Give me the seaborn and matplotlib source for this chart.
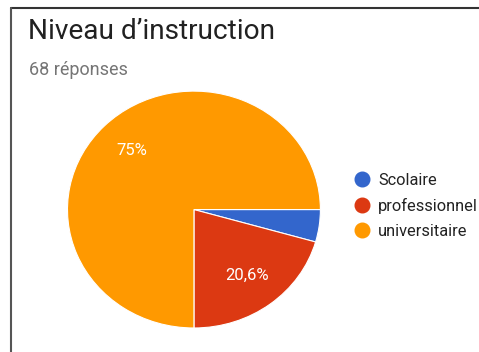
import matplotlib
matplotlib.use("Agg")
import matplotlib.pyplot as plt
from matplotlib.lines import Line2D
import seaborn as sns

# Donnees (68 reponses)
categories = ["Scolaire", "professionnel", "universitaire"]
counts = [3, 14, 51]
colors = sns.color_palette(["#3366cc", "#dc3912", "#ff9900"])

title = "Niveau d\u2019instruction"
subtitle = "68 réponses"

sns.set_theme(style="white")
plt.rcParams["font.family"] = ["Roboto", "DejaVu Sans"]

fig = plt.figure(figsize=(4.79, 3.52), dpi=100)
ax = fig.add_axes([0.1409, 0.0682, 0.528, 0.673])


def fmt_pct(p):
    # Google Forms cache les petites tranches, virgule decimale
    if p < 5:
        return ""
    s = f"{p:.1f}".rstrip("0").rstrip(".")
    return s.replace(".", ",") + "%"


wedges, texts, autotexts = ax.pie(
    counts,
    colors=colors,
    startangle=0,
    counterclock=False,
    autopct=fmt_pct,
    pctdistance=0.70,
    wedgeprops=dict(edgecolor="white", linewidth=0.8),
    textprops=dict(color="white", fontsize=12),
)
ax.set_xlim(-1.0, 1.0)
ax.set_ylim(-1.0, 1.0)
ax.set_aspect("auto")
ax.axis("off")

# Titre et sous-titre
fig.text(28 / 479, 1 - 39 / 352, title, fontsize=20.2, color="#212121", va="baseline")
fig.text(29 / 479, 1 - 75 / 352, subtitle, fontsize=13, color="#757575", va="baseline")

# Legende
handles = [
    Line2D([0], [0], marker="o", linestyle="", markersize=10.5,
           markerfacecolor=c, markeredgecolor=c)
    for c in colors
]
fig.legend(
    handles, categories,
    loc="upper left", bbox_to_anchor=(348 / 479, 1 - 166 / 352),
    frameon=False, fontsize=11.8, handletextpad=0.6,
    labelspacing=0.63, borderaxespad=0, handlelength=0.85,
    labelcolor="#222222",
)

# Cadre (haut et gauche visibles)
fig.add_artist(Line2D([11 / 479, 1], [1 - 8 / 352, 1 - 8 / 352],
                      transform=fig.transFigure, color="#333333", linewidth=1.5))
fig.add_artist(Line2D([11 / 479, 11 / 479], [0, 1 - 8 / 352],
                      transform=fig.transFigure, color="#555555", linewidth=1.5))

fig.savefig("out.png", dpi=100)
